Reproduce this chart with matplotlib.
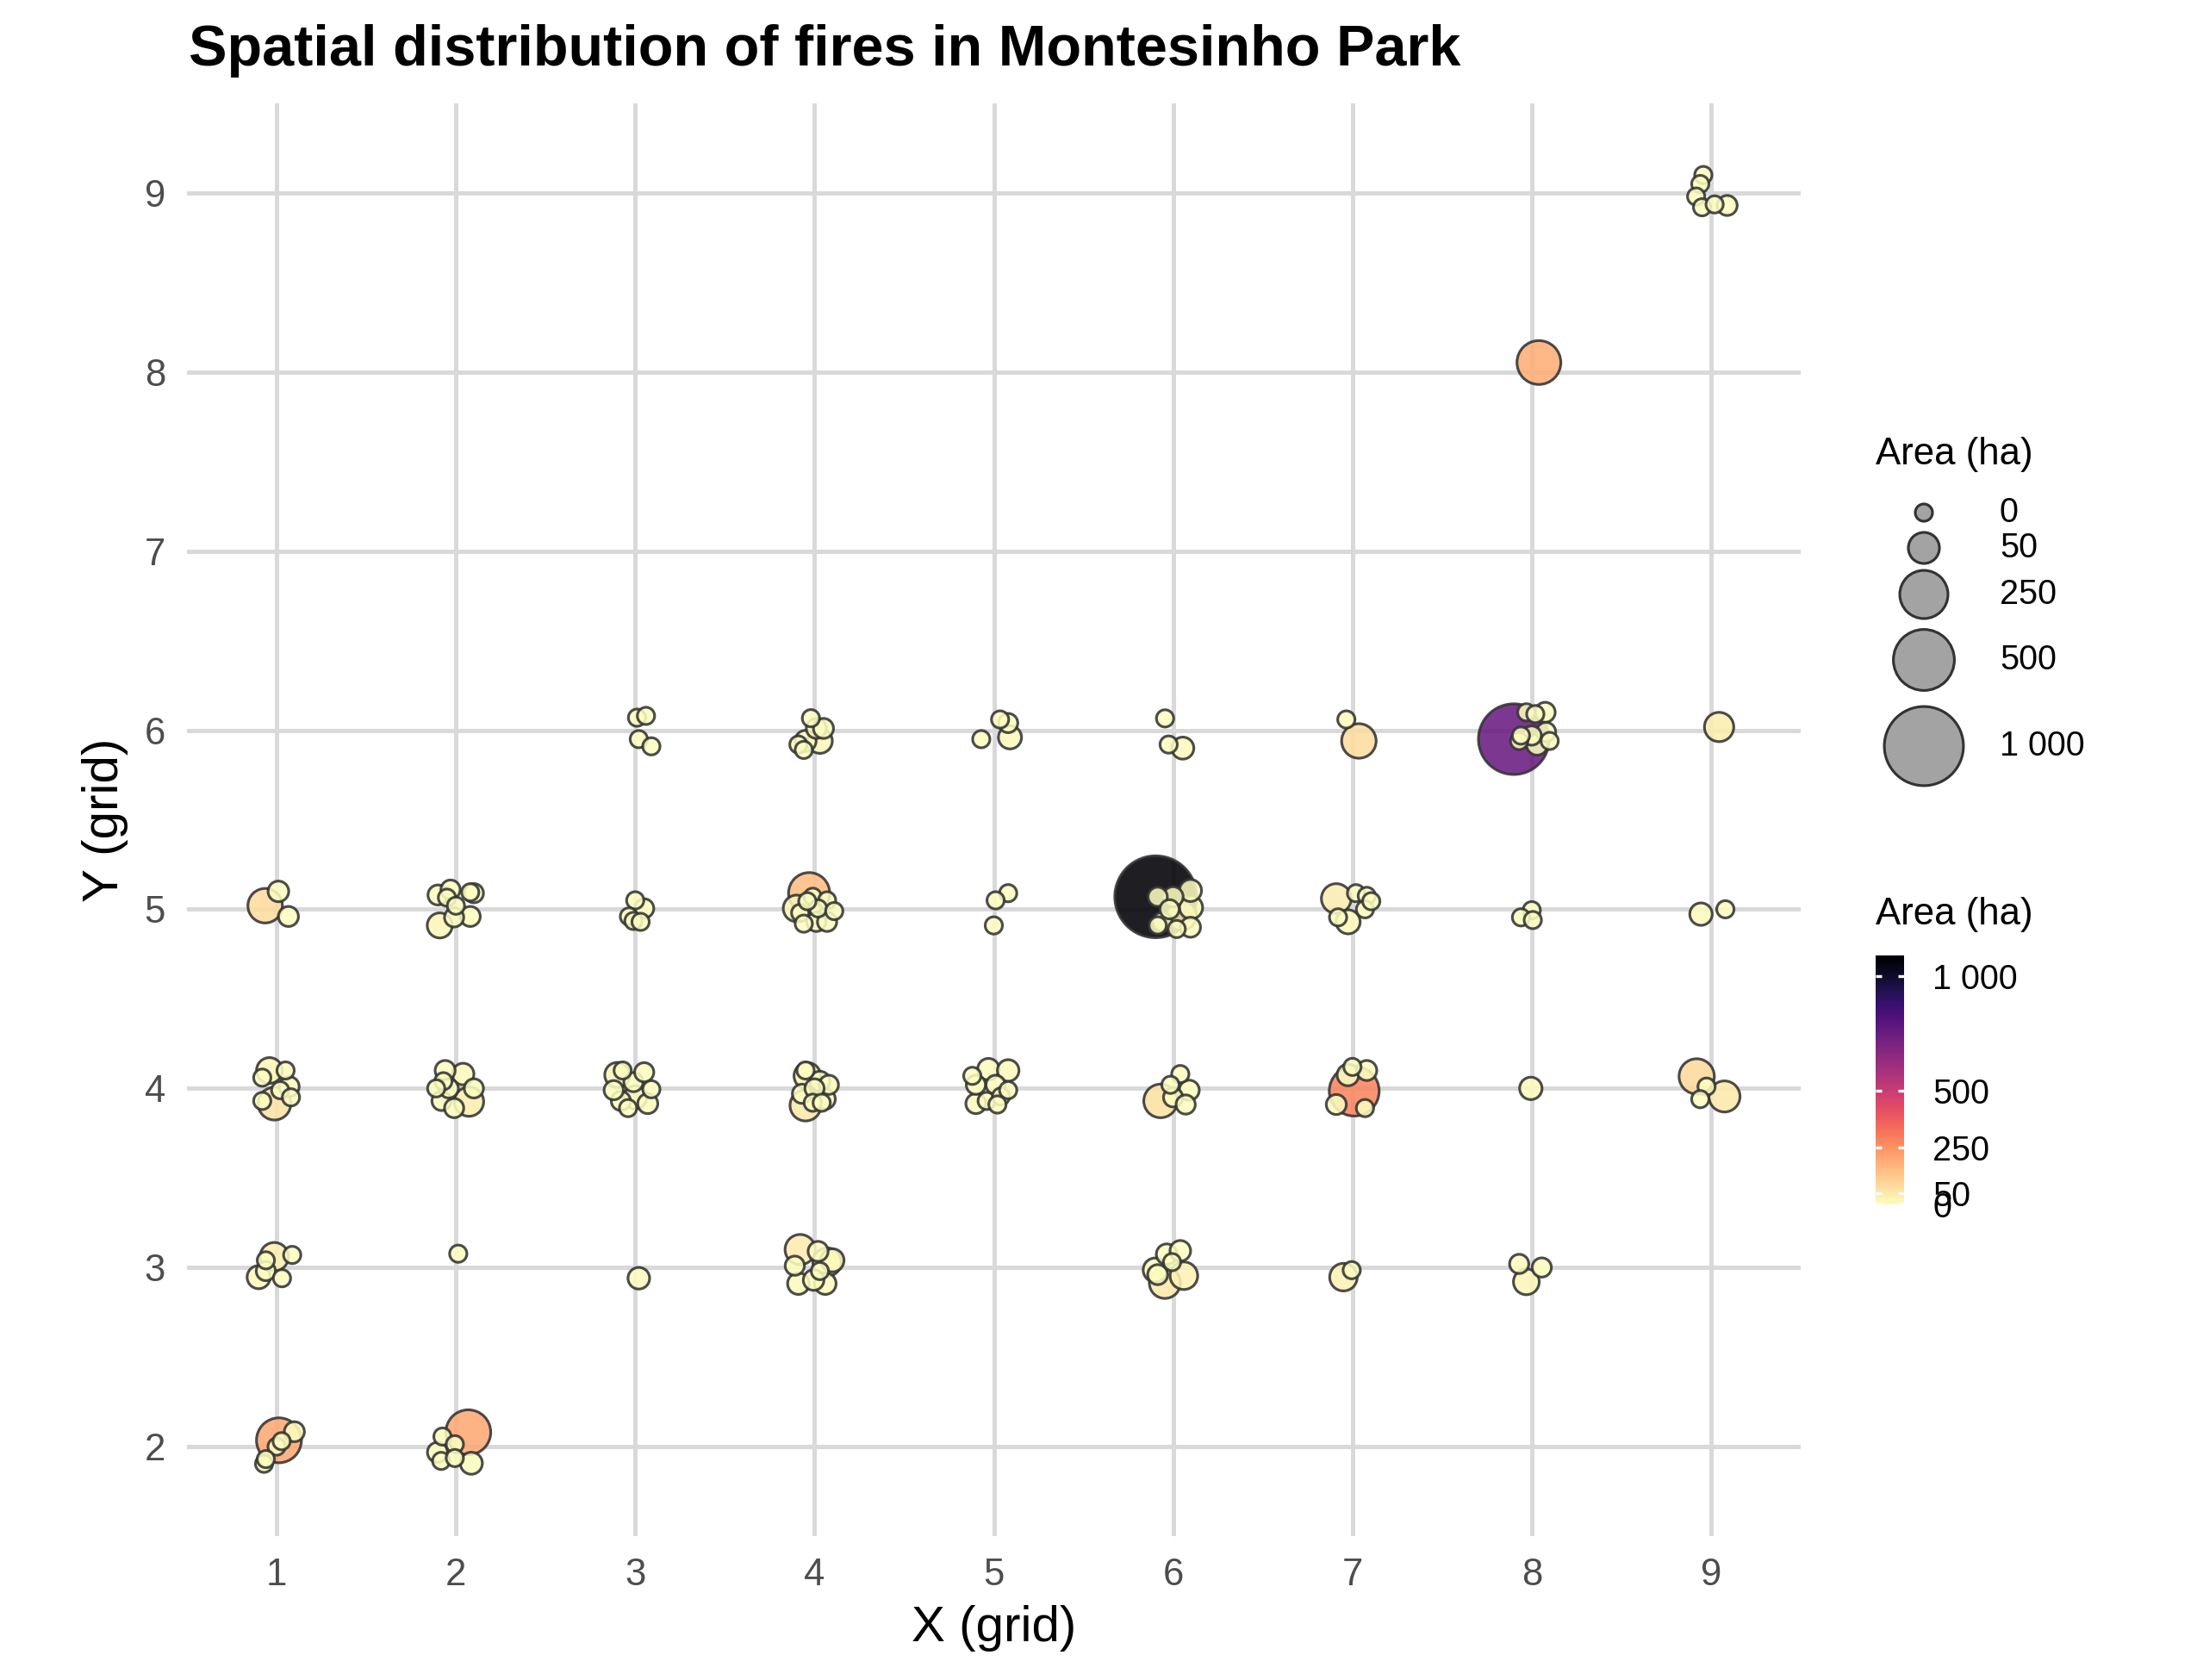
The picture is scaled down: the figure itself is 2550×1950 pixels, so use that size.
import numpy as np
import matplotlib
matplotlib.use('Agg')
import matplotlib.pyplot as plt
from matplotlib.colors import Normalize

plt.rcParams['font.family'] = ['Liberation Sans', 'DejaVu Sans']

AREA_MAX = 1090.84

# jittered grid positions and burned area (ha)
fire_x = [
    # row y=2
    1.013, 1.099, 1.0, 1.028, 0.93, 0.94,
    2.069, 2.086, 1.925, 1.994, 1.897, 1.918, 1.994,
    # row y=3
    0.987, 1.087, 0.90, 0.94, 1.03, 0.94,
    2.013, 3.02,
    3.92, 4.07, 4.10, 3.91, 4.03, 4.06, 3.995, 3.89, 4.02,
    5.954, 6.06, 5.90, 5.964, 6.04, 5.994, 5.914,
    6.95, 6.996,
    7.93, 8.056, 7.97,
    # row y=4
    0.988, 0.96, 0.92, 1.02, 1.05, 1.07, 0.92, 1.08,
    2.073, 1.94, 2.04, 1.93, 1.92, 1.89, 2.10, 1.99, 1.96,
    2.90, 3.0, 2.99, 2.93, 3.05, 3.09, 2.92, 3.07, 2.96, 2.88,
    3.96, 3.95, 4.03, 4.08, 3.93, 4.06, 3.99, 4.04, 3.95, 4.0,
    4.97, 5.08, 4.90, 4.90, 4.96, 5.04, 5.08, 5.01, 4.88, 5.02,
    5.93, 6.09, 6.04, 6.0, 6.07, 5.985,
    7.01, 6.975, 7.08, 6.91, 7.0, 7.07,
    7.995,
    8.92, 9.075, 8.975, 8.94,
    # row y=5
    0.936, 1.01, 1.066,
    1.91, 1.90, 1.97, 1.95, 2.08, 2.10, 2.08, 1.99, 2.0,
    3.0, 3.05, 2.965, 2.99, 3.03,
    3.97, 3.90, 3.92, 3.99, 4.07, 4.02, 4.01, 4.07, 4.11, 3.94, 3.96,
    5.08, 5.01, 5.0,
    5.903, 5.914, 6.0, 6.097, 6.047, 6.1, 5.94, 6.097, 5.98, 5.914, 6.02,
    6.91, 7.02, 7.08, 7.07, 6.976, 6.92, 7.105,
    8.0, 7.94, 8.006,
    8.944, 9.08,
    # row y=6
    3.01, 3.06, 3.02, 3.09,
    3.98, 4.01, 4.05, 3.95, 4.03, 3.91, 3.94,
    4.93, 5.035, 5.08, 5.09,
    5.955, 5.975, 6.054,
    6.966, 7.036,
    7.9, 7.97, 8.075, 8.08, 8.03, 7.93, 8.0, 8.1, 8.02, 7.94,
    9.045,
    # rows y=8, y=9
    8.04,
    8.957, 8.94, 8.917, 8.95, 9.02, 9.09,
]

fire_y = [
    2.035, 2.083, 2.0, 2.03, 1.904, 1.93,
    2.08, 1.907, 2.056, 2.013, 1.968, 1.92, 1.936,
    3.06, 3.07, 2.946, 2.98, 2.94, 3.04,
    3.077, 2.94,
    3.10, 3.03, 3.04, 2.91, 2.98, 2.91, 2.93, 3.01, 3.09,
    2.914, 2.954, 2.986, 3.074, 3.093, 3.03, 2.96,
    2.946, 2.985,
    3.02, 3.0, 2.92,
    3.915, 4.10, 3.93, 3.99, 4.10, 4.01, 4.06, 3.95,
    3.926, 4.10, 4.08, 4.04, 3.93, 4.0, 4.0, 3.89, 4.0,
    4.075, 3.95, 4.035, 4.10, 4.09, 3.995, 3.93, 3.915, 3.89, 3.99,
    4.07, 4.10, 4.04, 4.02, 3.97, 3.94, 3.92, 3.92, 3.905, 4.0,
    4.107, 4.10, 4.02, 3.915, 3.93, 3.955, 3.99, 4.02, 4.07, 3.91,
    3.93, 3.99, 4.08, 3.95, 3.91, 4.02,
    3.985, 4.075, 4.10, 3.91, 4.12, 3.89,
    4.0,
    4.067, 3.955, 4.01, 3.94,
    5.02, 5.10, 4.96,
    4.91, 5.08, 5.11, 5.065, 5.095, 5.09, 4.96, 4.955, 5.02,
    5.05, 5.005, 4.96, 4.935, 4.93,
    5.09, 5.005, 4.98, 5.07, 5.05, 5.005, 4.93, 4.93, 4.99, 4.92, 5.045,
    5.09, 5.05, 4.91,
    5.07, 5.07, 5.07, 5.105, 4.965, 5.01, 4.93, 4.90, 5.0, 4.91, 4.89,
    5.06, 5.09, 5.075, 5.0, 4.93, 4.955, 5.045,
    4.995, 4.955, 4.94,
    4.973, 5.0,
    6.07, 6.08, 5.95, 5.91,
    6.067, 6.01, 6.01, 5.94, 5.94, 5.92, 5.89,
    5.95, 6.06, 6.04, 5.96,
    6.066, 5.92, 5.90,
    6.06, 5.94,
    5.95, 6.1, 6.1, 5.99, 5.92, 5.94, 5.97, 5.94, 6.09, 5.97,
    6.018,
    8.053,
    9.1, 9.05, 8.98, 8.92, 8.936, 8.93,
]

fire_area = [
    200, 2, 0, 0, 0, 0,
    200, 6, 0, 0, 2, 0, 0,
    33, 0, 9, 1, 0, 0,
    0, 5,
    44, 33, 9, 5, 0, 5, 3, 1, 2,
    50, 28, 12, 3, 3, 0, 2,
    28, 0,
    1, 1, 19,
    63, 19, 0, 0, 0, 2, 0, 0,
    38, 2, 5, 0, 1, 0, 1, 1, 1,
    16, 9, 1, 0, 1, 0, 1, 2, 0, 1,
    23, 0, 2, 1, 1, 2, 0, 0, 50, 1,
    5, 5, 1, 2, 0, 0, 0, 1, 0, 0,
    70, 2, 0, 1, 1, 0,
    278.53, 5, 2, 2, 0, 0,
    7,
    85, 50, 0, 0,
    78, 3, 2,
    16, 2, 1, 0, 0, 1, 2, 1, 0,
    0, 1, 0, 0, 0,
    150, 23, 0, 0, 0, 0, 1, 1, 0, 0, 0,
    0, 0, 0,
    1090.84, 1, 2, 6, 41, 9, 1, 2, 1, 0, 0,
    41, 0, 0, 0, 12, 0, 0,
    0, 0, 0,
    7, 0,
    0, 0, 0, 0,
    0, 2, 2, 4, 15, 0, 0,
    0, 0, 1, 9,
    0, 0, 6,
    0, 78,
    746.28, 0, 2, 1, 4, 0, 1, 0, 0, 0,
    38,
    185,
    0, 0, 0, 0, 0, 2,
]

legend_breaks = [0, 50, 250, 500, 1000]
x_ticks = [1, 2, 3, 4, 5, 6, 7, 8, 9]
y_ticks = [2, 3, 4, 5, 6, 7, 8, 9]

DPI = 300
W, H = 2550, 1950
PANEL_L, PANEL_R, PANEL_T, PANEL_B = 217, 2090, 120, 1783


def marker_size(a):
    # diameter in pixels grows with sqrt(area), then to points^2
    d_px = 20 + 75 * np.sqrt(np.asarray(a, dtype=float) / AREA_MAX)
    return (d_px * 72 / DPI) ** 2


def fmt(v):
    return f'{v:,}'.replace(',', ' ')


fig = plt.figure(figsize=(W / DPI, H / DPI), dpi=DPI)
ax = fig.add_axes([PANEL_L / W, 1 - PANEL_B / H,
                   (PANEL_R - PANEL_L) / W, (PANEL_B - PANEL_T) / H])

cmap = plt.get_cmap('magma_r')
norm = Normalize(0, AREA_MAX)

fx = np.array(fire_x)
fy = np.array(fire_y)
fa = np.array(fire_area, dtype=float)
order = np.argsort(-fa, kind='stable')
ax.scatter(fx[order], fy[order], s=marker_size(fa[order]), c=fa[order],
           cmap=cmap, norm=norm, alpha=0.88, edgecolors='#333333',
           linewidths=0.75, zorder=3)

ax.set_xlim(0.5, 9.5)
ax.set_ylim(1.5, 9.5)
ax.set_xticks(x_ticks)
ax.set_yticks(y_ticks)
ax.grid(True, color='#D9D9D9', linewidth=1.2)
ax.set_axisbelow(True)
for sp in ax.spines.values():
    sp.set_visible(False)
ax.tick_params(length=0, labelsize=10.5, labelcolor='#4D4D4D', pad=6)

fig.text((PANEL_L + PANEL_R) / 2 / W, 1 - 1890 / H, 'X (grid)',
         ha='center', va='center', fontsize=14)
fig.text(122 / W, 1 - (PANEL_T + PANEL_B) / 2 / H, 'Y (grid)',
         ha='center', va='center', fontsize=14, rotation=90)
fig.text(219 / W, 1 - 76 / H, 'Spatial distribution of fires in Montesinho Park',
         ha='left', va='baseline', fontsize=16, fontweight='bold')

# size legend
lax = fig.add_axes([0, 0, 1, 1], zorder=5)
lax.set_xlim(0, W)
lax.set_ylim(H, 0)
lax.axis('off')
lax.text(2177, 528, 'Area (ha)', ha='left', va='center', fontsize=10.5)
leg_y = [595, 636, 690, 766, 866]
lax.scatter([2233] * len(legend_breaks), leg_y, s=marker_size(legend_breaks),
            facecolor='#A3A3A3', edgecolors='#333333', linewidths=0.75)
for v, yy in zip(legend_breaks, leg_y):
    lax.text(2321, yy, fmt(v), ha='left', va='center', fontsize=9.5)

# colour legend
lax.text(2177, 1062, 'Area (ha)', ha='left', va='center', fontsize=10.5)
cax = fig.add_axes([2177 / W, 1 - 1398 / H, 33 / W, 289 / H])
sm = plt.cm.ScalarMappable(norm=norm, cmap=cmap)
cb = fig.colorbar(sm, cax=cax)
cb.outline.set_visible(False)
cb.set_ticks(legend_breaks)
cb.set_ticklabels([fmt(v) for v in legend_breaks])
cax.tick_params(length=0, labelsize=9.5, pad=8)
cax.hlines(legend_breaks, 0, 0.22, color='white', linewidth=0.8)
cax.hlines(legend_breaks, 0.78, 1, color='white', linewidth=0.8)

fig.savefig('out.png', dpi=DPI)
